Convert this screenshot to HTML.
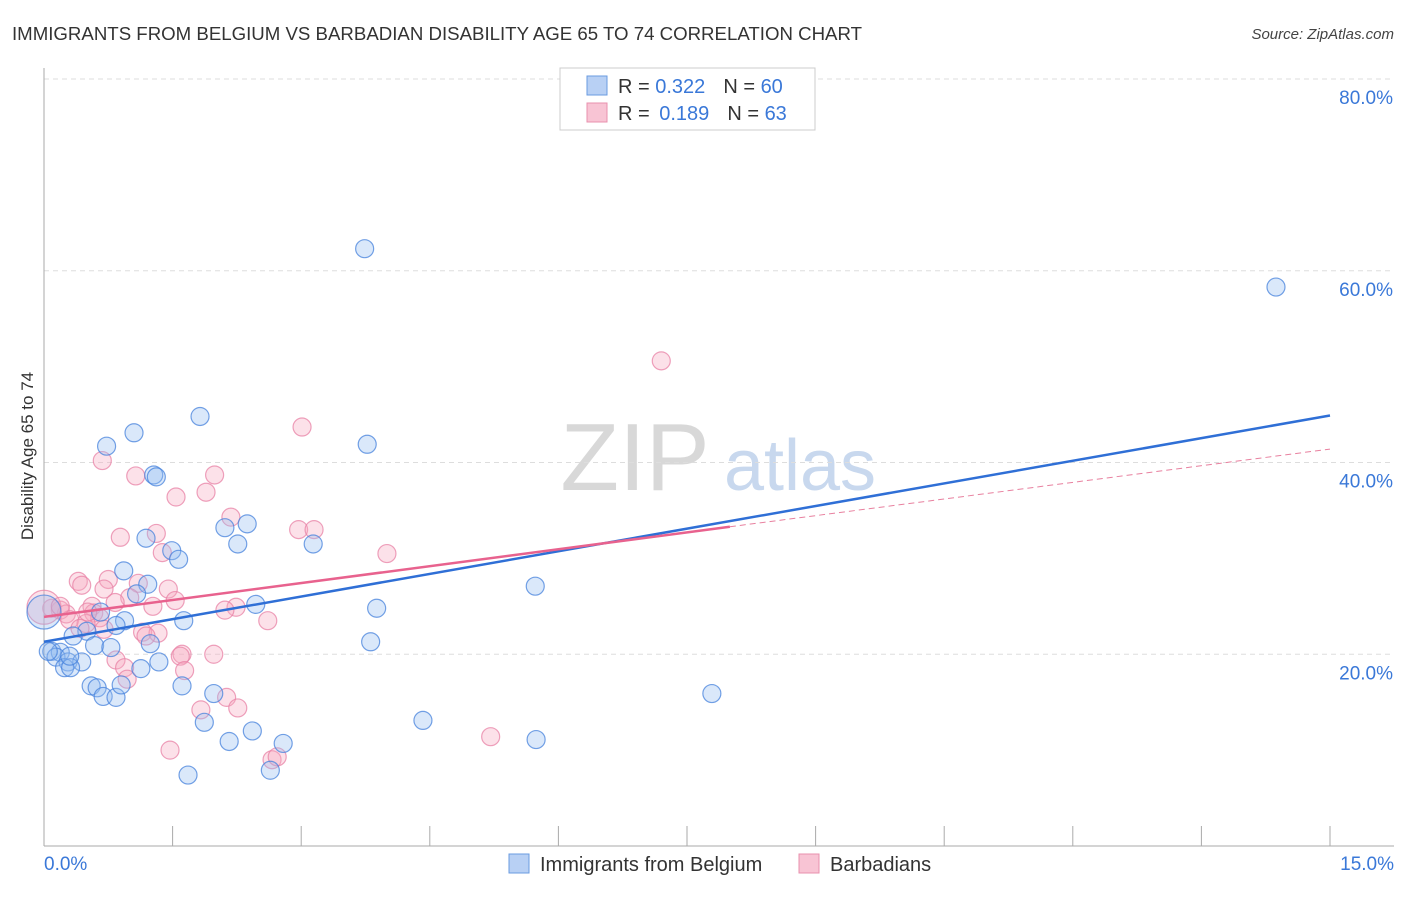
<!DOCTYPE html>
<html><head><meta charset="utf-8">
<style>
body{margin:0;background:#fff;font-family:"Liberation Sans",sans-serif;}
svg text{font-family:"Liberation Sans",sans-serif;}
</style></head>
<body>
<svg id="chart" width="1406" height="892" viewBox="0 0 1406 892" xmlns="http://www.w3.org/2000/svg">
<text x="12" y="40" font-size="18" fill="#333" textLength="850" lengthAdjust="spacingAndGlyphs">IMMIGRANTS FROM BELGIUM VS BARBADIAN DISABILITY AGE 65 TO 74 CORRELATION CHART</text>
<text x="1394" y="39" font-size="15" fill="#444" text-anchor="end" font-style="italic">Source: ZipAtlas.com</text>
<g>
<text x="635" y="490" font-size="96" fill="#d8d8d8" font-family="Liberation Serif" text-anchor="middle">ZIP</text>
<text x="800" y="490" font-size="72" fill="#c8d8ee" text-anchor="middle">atlas</text>
</g>
<g id="grid"></g>
<g id="axes"></g>
<g id="marks"></g>
<text transform="translate(33,456) rotate(-90)" font-size="17" fill="#333" text-anchor="middle">Disability Age 65 to 74</text>
<g>
<rect x="560" y="68" width="255" height="62" fill="#fff" stroke="#ccc"/>
<rect x="587" y="76" width="20" height="19" fill="#b8d0f4" stroke="#6a9be0"/>
<rect x="587" y="103" width="20" height="19" fill="#f8c4d4" stroke="#e890ae"/>
<text x="618" y="93" font-size="20" fill="#333">R = <tspan fill="#3a78d8">0.322</tspan><tspan dx="18">N = </tspan><tspan fill="#3a78d8">60</tspan></text>
<text x="618" y="120" font-size="20" fill="#333">R = <tspan dx="4" fill="#3a78d8">0.189</tspan><tspan dx="18">N = </tspan><tspan fill="#3a78d8">63</tspan></text>
</g>
<g>
<rect x="509" y="854" width="20" height="19" fill="#b8d0f4" stroke="#6a9be0"/>
<text x="540" y="871" font-size="20" fill="#333">Immigrants from Belgium</text>
<rect x="799" y="854" width="20" height="19" fill="#f8c4d4" stroke="#e890ae"/>
<text x="830" y="871" font-size="20" fill="#333">Barbadians</text>
</g>
</svg>
<script>
const yTicks=[20,40,60,80];
const yTickLabels=["20.0%","40.0%","60.0%","80.0%"];
const xTicks=[0,1.5,3,4.5,6,7.5,9,10.5,12,13.5,15];
const xEndLabels=["0.0%","15.0%"];
const belgiumX=[3.74,14.37,1.82,3.77,0.73,1.05,1.28,1.31,2.11,2.37,2.26,1.19,1.49,1.57,3.14,0.93,1.21,1.08,5.73,3.88,2.47,0.66,0.94,1.63,0.84,0.50,0.34,1.24,0.59,3.81,0.78,0.09,0.19,0.14,0.28,0.44,0.24,0.31,1.34,1.13,0.55,0.62,0.69,0.84,0.90,1.61,1.98,7.79,1.87,4.42,2.43,2.16,2.79,5.74,2.64,1.68,0,0.05,0.30];
const belgiumY=[62.3,58.3,44.8,41.9,41.7,43.1,38.7,38.5,33.2,33.6,31.5,32.1,30.8,29.9,31.5,28.7,27.3,26.3,27.1,24.8,25.2,24.4,23.5,23.5,23.0,22.4,21.9,21.1,20.9,21.3,20.7,20.3,20.2,19.7,19.2,19.2,18.6,18.6,19.2,18.5,16.7,16.5,15.6,15.5,16.8,16.7,15.9,15.9,12.9,13.1,12.0,10.9,10.7,11.1,7.9,7.4,24.4,20.3,19.8];
const barbX=[7.20,3.01,0.68,1.07,1.99,1.89,1.54,2.18,0.89,1.31,2.97,3.15,1.38,4.00,0.40,0.44,0.75,1.10,1.45,0.70,1.00,1.53,0.83,1.27,0.56,2.24,2.11,0.58,0.65,0.19,0.26,0.09,0,0.30,0.49,0.70,2.61,0.42,1.15,1.33,1.19,1.61,1.59,1.98,0.84,0.94,1.64,0.97,1.83,2.13,2.26,5.21,1.47,2.66,2.72,0.19,0.51];
const barbY=[50.6,43.7,40.2,38.6,38.7,36.9,36.4,34.3,32.2,32.6,33.0,33.0,30.6,30.5,27.6,27.2,27.8,27.4,26.8,26.8,25.9,25.6,25.4,25.0,25.0,24.9,24.6,24.3,23.8,24.6,24.2,24.8,24.9,23.6,23.2,22.6,23.5,22.7,22.3,22.2,21.9,20.0,19.8,20.0,19.4,18.6,18.3,17.4,14.2,15.5,14.4,11.4,10.0,9.0,9.3,25.0,24.4];
const belgiumLine=[21.3,44.9];
const barbLine=[23.9,33.3,41.4];
const barbSolidEnd=8.0;

const NS="http://www.w3.org/2000/svg";
const X0=44,X1=1330,Y0=846,YPER=(846-79)/80;
function sx(v){return X0+(X1-X0)*v/15;}
function sy(v){return Y0-v*YPER;}
function mk(tag,attrs,parent){const e=document.createElementNS(NS,tag);for(const k in attrs)e.setAttribute(k,attrs[k]);parent.appendChild(e);return e;}
const grid=document.getElementById('grid'),axes=document.getElementById('axes'),marks=document.getElementById('marks');
yTicks.forEach((t,i)=>{
 const l=mk('line',{x1:X0,x2:1394,y1:sy(t),y2:sy(t),stroke:'#ddd','stroke-dasharray':'5,4'},grid);
 
 
 const tx=mk('text',{x:1393,y:sy(t)+25,'font-size':19,fill:'#3a78d8','text-anchor':'end'},axes);
 tx.textContent=yTickLabels[i];
 
 
});
const ya=mk('line',{x1:X0,x2:X0,y1:68,y2:Y0,stroke:'#aaa'},axes);


const xa=mk('line',{x1:X0,x2:1394,y1:Y0,y2:Y0,stroke:'#aaa'},axes);


xTicks.forEach(t=>{
 const l=mk('line',{x1:sx(t),x2:sx(t),y1:Y0,y2:Y0-20,stroke:'#aaa'},axes);
 
 
});
const xl0=mk('text',{x:44,y:870,'font-size':19,fill:'#3a78d8'},axes);xl0.textContent=xEndLabels[0];


const xl1=mk('text',{x:1394,y:870,'font-size':19,fill:'#3a78d8','text-anchor':'end'},axes);xl1.textContent=xEndLabels[1];



barbX.forEach((v,i)=>{
 const c=mk('circle',{cx:sx(v),cy:sy(barbY[i]),r:(v===0?17:9),fill:'rgba(246,168,192,0.35)',stroke:'rgba(232,130,165,0.75)','stroke-width':1.2},marks);
 
 
});
belgiumX.forEach((v,i)=>{
 const c=mk('circle',{cx:sx(v),cy:sy(belgiumY[i]),r:(v===0?17:9),fill:'rgba(150,190,240,0.35)',stroke:'rgba(70,130,220,0.75)','stroke-width':1.2},marks);
 
 
});
const bl=mk('line',{x1:sx(0),y1:sy(belgiumLine[0]),x2:sx(15),y2:sy(belgiumLine[1]),stroke:'#2f6fd6','stroke-width':2.5},marks);


const pl=mk('line',{x1:sx(0),y1:sy(barbLine[0]),x2:sx(barbSolidEnd),y2:sy(barbLine[1]),stroke:'#e8628e','stroke-width':2.5},marks);


const pd=mk('line',{x1:sx(barbSolidEnd),y1:sy(barbLine[1]),x2:sx(15),y2:sy(barbLine[2]),stroke:'#e8809f','stroke-width':1,'stroke-dasharray':'6,4'},marks);


</script>
</body></html>
